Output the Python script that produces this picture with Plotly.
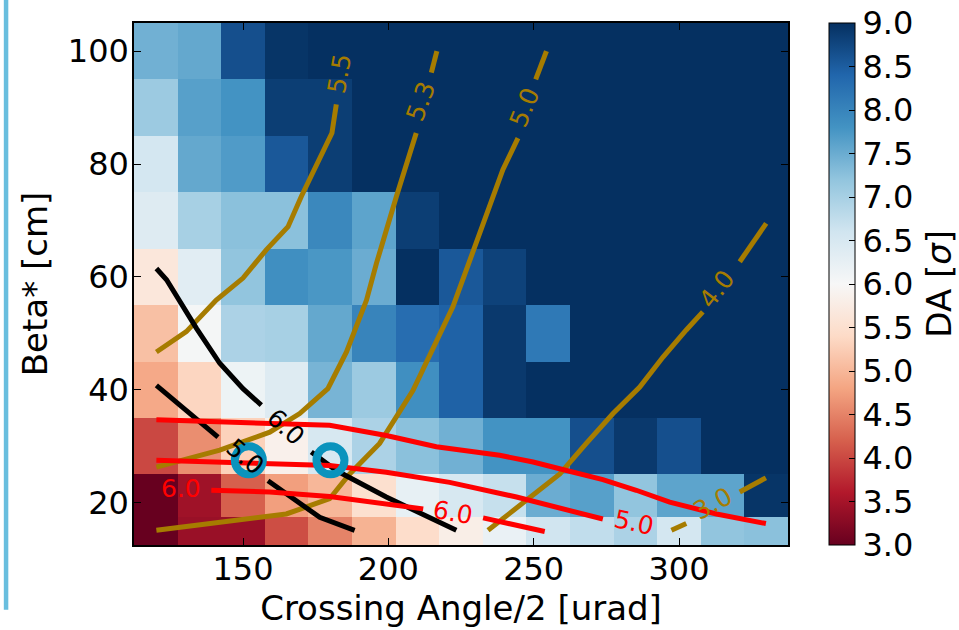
import plotly.graph_objects as go

# ---------------- data ----------------
crossing = [120, 135, 150, 165, 180, 195, 210, 225, 240, 255, 270, 285, 300, 315, 330]
beta = [15, 20, 30, 40, 50, 60, 70, 80, 90, 100]

da_b15 = [3.0, 3.4, 3.4, 4.05, 4.5, 4.95, 5.45, 5.8, 6.2, 6.6, 6.75, 6.95, 6.55, 7.2, 7.25]
da_b20 = [3.0, 3.45, 4.2, 4.75, 5.0, 5.5, 6.25, 6.5, 6.7, 7.5, 7.65, 7.2, 7.6, 7.6, 8.95]
da_b30 = [4.0, 4.6, 5.3, 5.85, 6.5, 6.95, 7.25, 7.45, 7.8, 7.8, 8.65, 8.9, 8.65, 9.0, 9.0]
da_b40 = [4.85, 5.35, 6.15, 6.4, 7.4, 7.1, 7.85, 8.45, 8.9, 9.0, 9.0, 9.0, 9.0, 9.0, 9.0]
da_b50 = [5.1, 6.05, 6.95, 7.0, 7.55, 8.0, 8.3, 8.45, 8.9, 8.15, 9.0, 9.0, 9.0, 9.0, 9.0]
da_b60 = [5.65, 6.35, 7.2, 7.85, 7.75, 7.5, 9.0, 8.55, 8.8, 9.0, 9.0, 9.0, 9.0, 9.0, 9.0]
da_b70 = [6.4, 7.0, 7.25, 7.25, 7.95, 7.6, 8.85, 9.0, 9.0, 9.0, 9.0, 9.0, 9.0, 9.0, 9.0]
da_b80 = [6.55, 7.55, 7.7, 8.55, 8.85, 9.0, 9.0, 9.0, 9.0, 9.0, 9.0, 9.0, 9.0, 9.0, 9.0]
da_b90 = [7.1, 7.65, 7.8, 8.85, 8.85, 9.0, 9.0, 9.0, 9.0, 9.0, 9.0, 9.0, 9.0, 9.0, 9.0]
da_b100 = [7.45, 7.55, 8.65, 8.95, 9.0, 9.0, 9.0, 9.0, 9.0, 9.0, 9.0, 9.0, 9.0, 9.0, 9.0]

cbar_ticks = [3.0, 3.5, 4.0, 4.5, 5.0, 5.5, 6.0, 6.5, 7.0, 7.5, 8.0, 8.5, 9.0]
x_ticks = [150, 200, 250, 300]
y_ticks = [20, 40, 60, 80, 100]

# gold contours (None separates inline-label gaps)
gold_x = [
    [120.2, 130.5, 140.8, 150.0, 158.0, 165.5, 170.1, 176.4, 180.6, 182.1],
    [120.2, 142.0, 159.2, 169.5, 179.2, 185.6, 192.5, 195.9, 202.8, 206.2, 209.6, None, 214.8, 216.7],
    [120.2, 164.9, 179.8, 186.7, 197.0, 208.5, 222.2, 232.6, 239.4, 244.6, None, 250.7, 254.4],
    [234.3, 247.5, 259.0, 268.1, 277.3, 286.5, 294.5, 302.5, 308.2, None, 320.9, 330.0],
    [297.4, 302.5, None, 320.9, 329.9],
]
gold_y = [
    [46.7, 50.3, 55.9, 59.8, 64.8, 68.9, 74.3, 81.0, 85.5, 90.6],
    [26.3, 29.3, 32.5, 35.8, 40.2, 46.7, 55.9, 62.4, 74.3, 80.2, 85.5, None, 96.2, 100.0],
    [15.1, 18.0, 20.7, 25.1, 30.5, 39.9, 54.7, 69.5, 79.0, 84.6, None, 95.0, 100.0],
    [15.1, 20.4, 25.1, 30.5, 35.8, 40.5, 45.8, 50.6, 53.8, None, 62.7, 69.5],
    [15.1, 16.3, None, 21.9, 24.4],
]
black_x = [
    [120.2, 123.7, 134.0, 142.0, 150.0, 156.3, None, 173.5, 182.1, 199.3, 223.4],
    [120.2, 130.5, 141.4, None, 158.6, 176.4, 188.4],
]
black_y = [
    [61.5, 59.5, 50.9, 44.7, 40.2, 37.3, None, 29.0, 25.7, 21.0, 15.1],
    [40.8, 36.4, 31.6, None, 23.9, 17.4, 15.1],
]
red_x = [
    [120.2, 159.2, 179.8, 199.3, 216.5, 238.3, 249.8, 261.3, 273.8, 285.3, 296.8, 312.9, 329.9],
    [120.2, 142.0, 159.2, 179.8, 199.3, 221.1, 244.1, 273.8],
    [139.1, 159.2, 179.8, 199.3, 212.0, None, 232.6, 253.8],
]
red_y = [
    [34.7, 34.1, 33.7, 31.9, 29.9, 28.4, 27.2, 25.7, 24.1, 22.2, 20.1, 18.0, 16.3],
    [27.5, 27.2, 27.0, 26.6, 25.4, 23.6, 21.0, 17.1],
    [22.2, 21.9, 21.1, 19.9, 18.9, None, 17.3, 14.9],
]

# inline contour labels
label_text = ["5.5", "5.3", "5.0", "4.0", "3.0", "6.0", "5.0", "5.0", "6.0", "6.0"]
label_x = [183.3, 211.4, 246.9, 312.9, 311.7, 164.9, 150.6, 284.4, 128.5, 222.2]
label_y = [96.0, 91.2, 90.0, 57.8, 19.8, 33.4, 28.1, 16.4, 22.6, 18.3]
label_angle = [-80, -70, -68, -52, -28, 42, 40, 12, 0, 10]
label_kind = ["gold", "gold", "gold", "gold", "gold", "black", "black", "red", "red", "red"]

# working points
wp_x = [152.0, 180.1]
wp_y = [27.5, 27.5]

# ---------------- style ----------------
GOLD = "#a67c00"
RED = "#ff0000"
BLACK = "#000000"
kind_color = {"gold": GOLD, "black": BLACK, "red": RED}
FONT = "DejaVu Sans"

rdbu = [
    [0.0, "rgb(103,0,31)"], [0.1, "rgb(178,24,43)"], [0.2, "rgb(214,96,77)"],
    [0.3, "rgb(244,165,130)"], [0.4, "rgb(253,219,199)"], [0.5, "rgb(247,247,247)"],
    [0.6, "rgb(209,229,240)"], [0.7, "rgb(146,197,222)"], [0.8, "rgb(67,147,195)"],
    [0.9, "rgb(33,102,172)"], [1.0, "rgb(5,48,97)"],
]

z = [da_b15, da_b20, da_b30, da_b40, da_b50, da_b60, da_b70, da_b80, da_b90, da_b100]

fig = go.Figure()
fig.add_trace(go.Heatmap(
    x=crossing, y=beta, z=z, zmin=3, zmax=9, colorscale=rdbu,
    colorbar=dict(
        x=(829 - 134) / 654.3, xanchor="left", xpad=0, y=0.5, yanchor="middle", ypad=0,
        len=1, lenmode="fraction", thickness=26, thicknessmode="pixels",
        outlinewidth=1, outlinecolor="black",
        ticks="inside", ticklen=6, tickcolor="black", tickwidth=1,
        tickvals=cbar_ticks, ticktext=[f"{v:.1f}" for v in cbar_ticks],
        tickfont=dict(family=FONT, size=32, color="black"),
    ),
    showscale=True, hoverinfo="skip",
))

for xs, ys in zip(gold_x, gold_y):
    fig.add_trace(go.Scatter(x=xs, y=ys, mode="lines", line=dict(color=GOLD, width=5),
                             showlegend=False, hoverinfo="skip"))
for xs, ys in zip(black_x, black_y):
    fig.add_trace(go.Scatter(x=xs, y=ys, mode="lines", line=dict(color=BLACK, width=5),
                             showlegend=False, hoverinfo="skip"))
for xs, ys in zip(red_x, red_y):
    fig.add_trace(go.Scatter(x=xs, y=ys, mode="lines", line=dict(color=RED, width=5),
                             showlegend=False, hoverinfo="skip"))

for t, lx, ly, a, k in zip(label_text, label_x, label_y, label_angle, label_kind):
    fig.add_annotation(x=lx, y=ly, text=t, textangle=a, showarrow=False,
                       font=dict(family=FONT, size=25, color=kind_color[k]))

fig.add_trace(go.Scatter(x=wp_x, y=wp_y, mode="markers",
                         marker=dict(symbol="circle-open", size=28, color="#0a93bd",
                                     line=dict(width=8, color="#0a93bd")),
                         showlegend=False, hoverinfo="skip"))

# colorbar title
fig.add_annotation(xref="paper", yref="paper", x=(939 - 134) / 654.3, y=0.5,
                   text="DA [<i>σ</i>]", textangle=-90, showarrow=False,
                   xanchor="center", yanchor="middle",
                   font=dict(family=FONT, size=34, color="black"))

fig.update_xaxes(range=[112.5, 337.5], tickvals=x_ticks, ticks="inside", ticklen=7,
                 tickcolor="black", showline=True, linecolor="black", linewidth=1.5,
                 mirror="ticks", showgrid=False, zeroline=False, automargin=False,
                 ticklabelstandoff=-5,
                 tickfont=dict(family=FONT, size=32, color="black"),
                 title=dict(text="Crossing Angle/2 [urad]", standoff=6,
                            font=dict(family=FONT, size=34, color="black")))
fig.update_yaxes(range=[12.5, 105], tickvals=y_ticks, ticks="inside", ticklen=7,
                 tickcolor="black", showline=True, linecolor="black", linewidth=1.5,
                 mirror="ticks", showgrid=False, zeroline=False, automargin=False,
                 ticklabelstandoff=-3,
                 tickfont=dict(family=FONT, size=32, color="black"),
                 title=dict(text="Beta* [cm]", standoff=10,
                            font=dict(family=FONT, size=34, color="black")))

fig.add_shape(type="line", xref="paper", yref="paper",
              x0=(6 - 134) / 654.3, x1=(6 - 134) / 654.3,
              y0=545.2 / 522.3, y1=(545.2 - 610) / 522.3,
              line=dict(color="#69bede", width=4.5))

fig.update_layout(width=959, height=630,
                  margin=dict(l=134, r=959 - 788.3, t=23, b=630 - 545.2, autoexpand=False),
                  plot_bgcolor="white", paper_bgcolor="white",
                  font=dict(family=FONT, color="black"), showlegend=False)

fig.write_html("out.html", config={"displayModeBar": False},
               post_script="document.body.style.margin='0px';")
